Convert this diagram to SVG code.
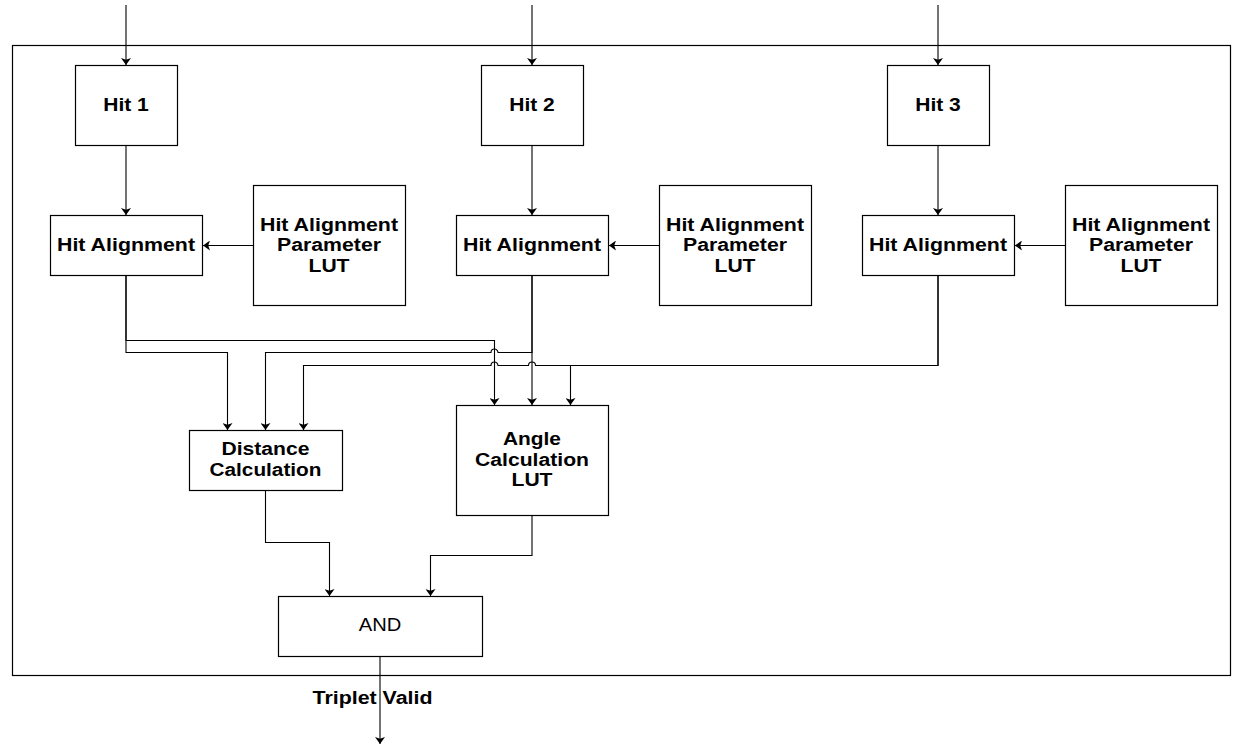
<svg xmlns="http://www.w3.org/2000/svg" width="1236" height="747" viewBox="0 0 1236 747">
<defs>
<marker id="arr" markerUnits="userSpaceOnUse" markerWidth="7" markerHeight="10" viewBox="0 0 7 10" refX="7" refY="5" orient="auto">
<path d="M0,0 L7,5 L0,10 L1.8,5 Z" fill="#000"/>
</marker>
</defs>
<style>
rect.box{fill:#fff;stroke:#000;stroke-width:1.2}
text{font-family:"Liberation Sans",Arial,sans-serif;font-size:18px;text-anchor:middle;fill:#000}
text.b{font-weight:bold}
.conn path{fill:none;stroke:#000;stroke-width:1.1}
</style>
<rect width="1236" height="747" fill="#fff"/>
<g id="container"><rect x="12.5" y="45.5" width="1218" height="630" fill="none" stroke="#000" stroke-width="1.2"/></g>

<g id="hit1"><rect class="box" x="75.5" y="65.5" width="102" height="80"/><text class="b" x="126" y="111" textLength="45.6" lengthAdjust="spacingAndGlyphs">Hit 1</text></g>
<g id="hit2"><rect class="box" x="481.5" y="65.5" width="102" height="80"/><text class="b" x="532" y="111" textLength="45.6" lengthAdjust="spacingAndGlyphs">Hit 2</text></g>
<g id="hit3"><rect class="box" x="887.5" y="65.5" width="102" height="80"/><text class="b" x="938" y="111" textLength="45.6" lengthAdjust="spacingAndGlyphs">Hit 3</text></g>

<g id="align1"><rect class="box" x="50.5" y="215.5" width="152" height="60"/><text class="b" x="126" y="251" textLength="138" lengthAdjust="spacingAndGlyphs">Hit Alignment</text></g>
<g id="align2"><rect class="box" x="456.5" y="215.5" width="152" height="60"/><text class="b" x="532" y="251" textLength="138" lengthAdjust="spacingAndGlyphs">Hit Alignment</text></g>
<g id="align3"><rect class="box" x="862.5" y="215.5" width="152" height="60"/><text class="b" x="938" y="251" textLength="138" lengthAdjust="spacingAndGlyphs">Hit Alignment</text></g>

<g id="lut1"><rect class="box" x="253.5" y="185.5" width="152" height="120"/>
<text class="b" x="329" y="230.5" textLength="138" lengthAdjust="spacingAndGlyphs">Hit Alignment</text>
<text class="b" x="329" y="251" textLength="104" lengthAdjust="spacingAndGlyphs">Parameter</text>
<text class="b" x="329" y="271.5" textLength="41" lengthAdjust="spacingAndGlyphs">LUT</text></g>
<g id="lut2"><rect class="box" x="659.5" y="185.5" width="152" height="120"/>
<text class="b" x="735" y="230.5" textLength="138" lengthAdjust="spacingAndGlyphs">Hit Alignment</text>
<text class="b" x="735" y="251" textLength="104" lengthAdjust="spacingAndGlyphs">Parameter</text>
<text class="b" x="735" y="271.5" textLength="41" lengthAdjust="spacingAndGlyphs">LUT</text></g>
<g id="lut3"><rect class="box" x="1065.5" y="185.5" width="152" height="120"/>
<text class="b" x="1141" y="230.5" textLength="138" lengthAdjust="spacingAndGlyphs">Hit Alignment</text>
<text class="b" x="1141" y="251" textLength="104" lengthAdjust="spacingAndGlyphs">Parameter</text>
<text class="b" x="1141" y="271.5" textLength="41" lengthAdjust="spacingAndGlyphs">LUT</text></g>

<g id="distance"><rect class="box" x="189.5" y="430.5" width="153" height="60"/>
<text class="b" x="265.5" y="455" textLength="88" lengthAdjust="spacingAndGlyphs">Distance</text>
<text class="b" x="265.5" y="475.5" textLength="112" lengthAdjust="spacingAndGlyphs">Calculation</text></g>

<g id="angle"><rect class="box" x="456.5" y="405.5" width="152" height="110"/>
<text class="b" x="532" y="445" textLength="58" lengthAdjust="spacingAndGlyphs">Angle</text>
<text class="b" x="532" y="465.5" textLength="114" lengthAdjust="spacingAndGlyphs">Calculation</text>
<text class="b" x="532" y="486" textLength="41" lengthAdjust="spacingAndGlyphs">LUT</text></g>

<g id="and"><rect class="box" x="278.5" y="596.5" width="204" height="60"/>
<text x="380" y="631" textLength="42.5" lengthAdjust="spacingAndGlyphs">AND</text></g>

<g class="conn" id="connectors">
<path d="M126,5 V65" marker-end="url(#arr)"/>
<path d="M532,5 V65" marker-end="url(#arr)"/>
<path d="M938,5 V65" marker-end="url(#arr)"/>
<path d="M126,145.5 V215" marker-end="url(#arr)"/>
<path d="M532,145.5 V215" marker-end="url(#arr)"/>
<path d="M938,145.5 V215" marker-end="url(#arr)"/>
<path d="M253.5,245.5 H203" marker-end="url(#arr)"/>
<path d="M659.5,245.5 H609" marker-end="url(#arr)"/>
<path d="M1065.5,245.5 H1015" marker-end="url(#arr)"/>
<path d="M126,275.5 V352.5 H227.5 V430" marker-end="url(#arr)"/>
<path d="M126,275.5 V340.5 H494.5 V405" marker-end="url(#arr)"/>
<path d="M532,275.5 V352.5 H498 A3.5,3.5 0 0 0 491,352.5 H265.5 V430" marker-end="url(#arr)"/>
<path d="M532,275.5 V405" marker-end="url(#arr)"/>
<path d="M938,275.5 V365.5 H535.5 A3.5,3.5 0 0 0 528.5,365.5 H498 A3.5,3.5 0 0 0 491,365.5 H303.5 V430" marker-end="url(#arr)"/>
<path d="M938,275.5 V365.5 H570.5 V405" marker-end="url(#arr)"/>
<path d="M265.5,490.5 V542.5 H329.5 V596" marker-end="url(#arr)"/>
<path d="M532,515.5 V555.5 H430.5 V596" marker-end="url(#arr)"/>
<path d="M380,656.5 V744" marker-end="url(#arr)"/>
</g>
<text class="b" x="372.5" y="704" textLength="120" lengthAdjust="spacingAndGlyphs">Triplet Valid</text>
</svg>
